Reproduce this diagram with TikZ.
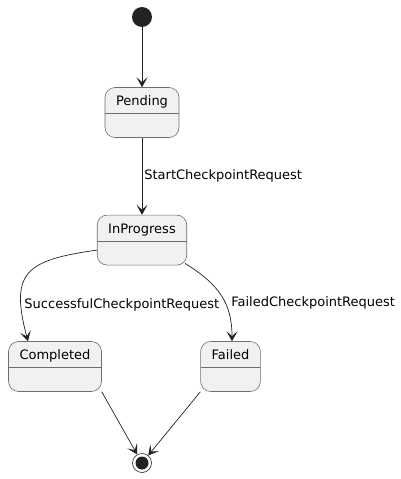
\documentclass[tikz,border=0pt]{standalone}
\usepackage{fontspec}
\setmainfont{DejaVu Sans}
\usetikzlibrary{arrows.meta,positioning}
\definecolor{StateFill}{RGB}{241,241,241}
\definecolor{StateLine}{RGB}{110,110,110}
\definecolor{DotFill}{RGB}{34,34,34}
\tikzset{
  statebox/.style={draw=StateLine,line width=0.6pt,rounded corners=10pt,
    fill=StateFill,inner xsep=11pt,inner ysep=0pt,
    text height=18pt,text depth=32pt,font=\fontsize{13}{15}\selectfont,
    path picture={\draw[StateLine,line width=0.6pt]
      ([yshift=-26pt]path picture bounding box.north west) --
      ([yshift=-26pt]path picture bounding box.north east);}},
  startdot/.style={circle,fill=DotFill,minimum size=20pt,inner sep=0pt},
  enddot/.style={circle,draw=DotFill,line width=0.6pt,fill=white,
    minimum size=19pt,inner sep=0pt,
    path picture={\fill[DotFill] (path picture bounding box.center) circle (6.5pt);}},
  transarrow/.style={-{Stealth[length=10pt,width=11pt,inset=5pt]},
    line width=0.7pt,draw=DotFill},
  translabel/.style={anchor=west,inner xsep=2pt,font=\fontsize{13}{15}\selectfont},
}
\begin{document}
\begin{tikzpicture}[x=1pt,y=-1pt]
  \useasboundingbox (0,0) rectangle (401,479);
  \node[startdot] (start) at (142,17) {};
  \node[statebox,below=60pt of start] (pending) {Pending};
  \node[statebox,below=77pt of pending] (inprogress) {InProgress};
  \node[statebox] (completed) at (55,366.5) {Completed};
  \node[statebox] (failed) at (230.5,366.5) {Failed};
  \node[enddot] (final) at (142,463) {};
  \draw[transarrow] (start) -- (pending);
  \draw[transarrow] (pending) -- node[translabel,pos=0.5] {StartCheckpointRequest} (inprogress);
  \draw[transarrow] ([yshift=-10pt]inprogress.west) to[out=188,in=105,looseness=1.6]
    node[translabel,pos=0.79,xshift=1pt] {SuccessfulCheckpointRequest} ([xshift=-27pt]completed.north);
  \draw[transarrow] ([xshift=-2pt,yshift=2pt]inprogress.south east) to[out=-32,in=90,looseness=1.1]
    node[translabel,pos=0.6,xshift=4pt] {FailedCheckpointRequest} ([xshift=1.5pt]failed.north);
  \draw[transarrow] (completed.south east) -- (final);
  \draw[transarrow] (failed.south west) -- (final);
\end{tikzpicture}
\end{document}
